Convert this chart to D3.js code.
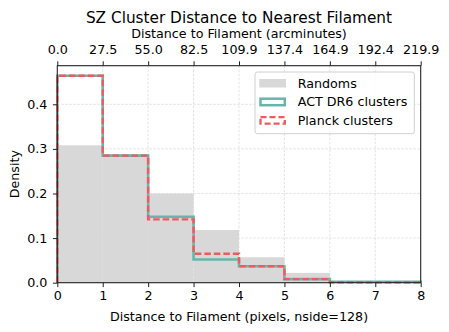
<!DOCTYPE html>
<html>
<head>
<meta charset="utf-8">
<script src="https://cdn.jsdelivr.net/npm/d3@7"></script>
<style>
  body { margin: 0; background: #fff; }
  text { font-family: "DejaVu Sans", sans-serif; fill: #000; }
</style>
</head>
<body>
<svg id="chart" width="449" height="332"></svg>
<script>
const binEdges = [0, 1, 2, 3, 4, 5, 6, 7, 8];
const randoms = [0.308, 0.288, 0.200, 0.118, 0.057, 0.022, 0.004, 0.001];
const actDR6 = [0.464, 0.285, 0.148, 0.052, 0.037, 0.008, 0.002, 0.002];
const planck = [0.464, 0.285, 0.142, 0.065, 0.037, 0.008, 0.001, 0.001];
const yTicks = [0.0, 0.1, 0.2, 0.3, 0.4];
const topTickLabels = ["0.0", "27.5", "55.0", "82.5", "109.9", "137.4", "164.9", "192.4", "219.9"];

const teal = "#6cb3ac", red = "#f05a5b", gray = "#d8d8d8";
const fs = "12.7px";

const svg = d3.select("#chart");
const m = {left: 57.3, right: 420.7, top: 65.7, bottom: 282.7};

const x = d3.scaleLinear().domain([0, 8]).range([m.left, m.right]);
const y = d3.scaleLinear().domain([0, 0.4865]).range([m.bottom, m.top]);

// grid
const grid = svg.append("g");
grid.selectAll("line.gx").data(binEdges.slice(1, -1)).join("line")
    .attr("x1", d => x(d)).attr("x2", d => x(d))
    .attr("y1", m.top).attr("y2", m.bottom)
    .attr("stroke", "#d0d0d0").attr("stroke-width", 0.6).attr("stroke-dasharray", "2.5,1.5");
grid.selectAll("line.gy").data(yTicks.slice(1)).join("line")
    .attr("x1", m.left).attr("x2", m.right)
    .attr("y1", d => y(d)).attr("y2", d => y(d))
    .attr("stroke", "#d0d0d0").attr("stroke-width", 0.6).attr("stroke-dasharray", "2.5,1.5");

// randoms filled bars
svg.append("g").selectAll("rect").data(randoms).join("rect")
    .attr("x", (d, i) => x(binEdges[i]))
    .attr("width", (d, i) => x(binEdges[i + 1]) - x(binEdges[i]))
    .attr("y", d => y(d))
    .attr("height", d => y(0) - y(d))
    .attr("fill", gray);

function stepPath(vals) {
    const pts = [[binEdges[0], 0]];
    vals.forEach((v, i) => {
        pts.push([binEdges[i], v]);
        pts.push([binEdges[i + 1], v]);
    });
    pts.push([binEdges[binEdges.length - 1], 0]);
    return d3.line().x(d => x(d[0])).y(d => y(d[1]))(pts);
}

svg.append("path").attr("d", stepPath(actDR6))
    .attr("fill", "none").attr("stroke", teal).attr("stroke-width", 2.6);
svg.append("path").attr("d", stepPath(planck))
    .attr("fill", "none").attr("stroke", red).attr("stroke-width", 2.4)
    .attr("stroke-dasharray", "6.5,3");

// frame
svg.append("rect").attr("x", m.left).attr("y", m.top)
    .attr("width", m.right - m.left).attr("height", m.bottom - m.top)
    .attr("fill", "none").attr("stroke", "#222").attr("stroke-width", 1.1);

// axes
const xAxis = svg.append("g").attr("transform", `translate(0,${m.bottom})`)
    .call(d3.axisBottom(x).tickValues(binEdges).tickFormat(d3.format("d")).tickSize(4.4).tickPadding(4));
const yAxis = svg.append("g").attr("transform", `translate(${m.left},0)`)
    .call(d3.axisLeft(y).tickValues(yTicks).tickFormat(d3.format(".1f")).tickSize(4.4).tickPadding(5.5));
const topAxis = svg.append("g").attr("transform", `translate(0,${m.top})`)
    .call(d3.axisTop(x).tickValues(binEdges).tickFormat((d, i) => topTickLabels[i]).tickSize(4.4).tickPadding(7));
[xAxis, yAxis, topAxis].forEach(a => {
    a.select(".domain").remove();
    a.selectAll(".tick line").attr("stroke", "#222").attr("stroke-width", 1);
    a.selectAll("text").style("font-size", fs).style("font-family", "DejaVu Sans");
});

// labels
svg.append("text").attr("x", (m.left + m.right) / 2).attr("y", 22.5)
    .attr("text-anchor", "middle").style("font-size", "15.3px")
    .text("SZ Cluster Distance to Nearest Filament");
svg.append("text").attr("x", (m.left + m.right) / 2).attr("y", 37.5)
    .attr("text-anchor", "middle").style("font-size", fs)
    .text("Distance to Filament (arcminutes)");
svg.append("text").attr("x", (m.left + m.right) / 2).attr("y", 320.5)
    .attr("text-anchor", "middle").style("font-size", fs)
    .text("Distance to Filament (pixels, nside=128)");
svg.append("text").attr("transform", `translate(19,${(m.top + m.bottom) / 2}) rotate(-90)`)
    .attr("text-anchor", "middle").style("font-size", fs)
    .text("Density");

// legend
const lg = svg.append("g").attr("transform", "translate(255,72)");
lg.append("rect").attr("width", 159.3).attr("height", 61.7).attr("rx", 2.5)
    .attr("fill", "rgba(255,255,255,0.8)").attr("stroke", "#d0d0d0").attr("stroke-width", 1);
const items = [
    {label: "Randoms", kind: "fill"},
    {label: "ACT DR6 clusters", kind: "teal"},
    {label: "Planck clusters", kind: "red"}
];
items.forEach((it, i) => {
    const gy = 7 + i * 18.5;
    const g = lg.append("g").attr("transform", `translate(4.3,${gy})`);
    if (it.kind === "fill") {
        g.append("rect").attr("width", 26.7).attr("height", 8.5).attr("fill", gray);
    } else if (it.kind === "teal") {
        g.append("rect").attr("x", 1.2).attr("y", 1.2).attr("width", 24.3).attr("height", 6.5)
            .attr("fill", "none").attr("stroke", teal).attr("stroke-width", 2.5);
    } else {
        g.append("rect").attr("x", 1.2).attr("y", 1.2).attr("width", 24.3).attr("height", 6.5)
            .attr("fill", "none").attr("stroke", red).attr("stroke-width", 2.3)
            .attr("stroke-dasharray", "6,3");
    }
    g.append("text").attr("x", 38.4).attr("y", 8.8).style("font-size", fs).text(it.label);
});
</script>
</body>
</html>
